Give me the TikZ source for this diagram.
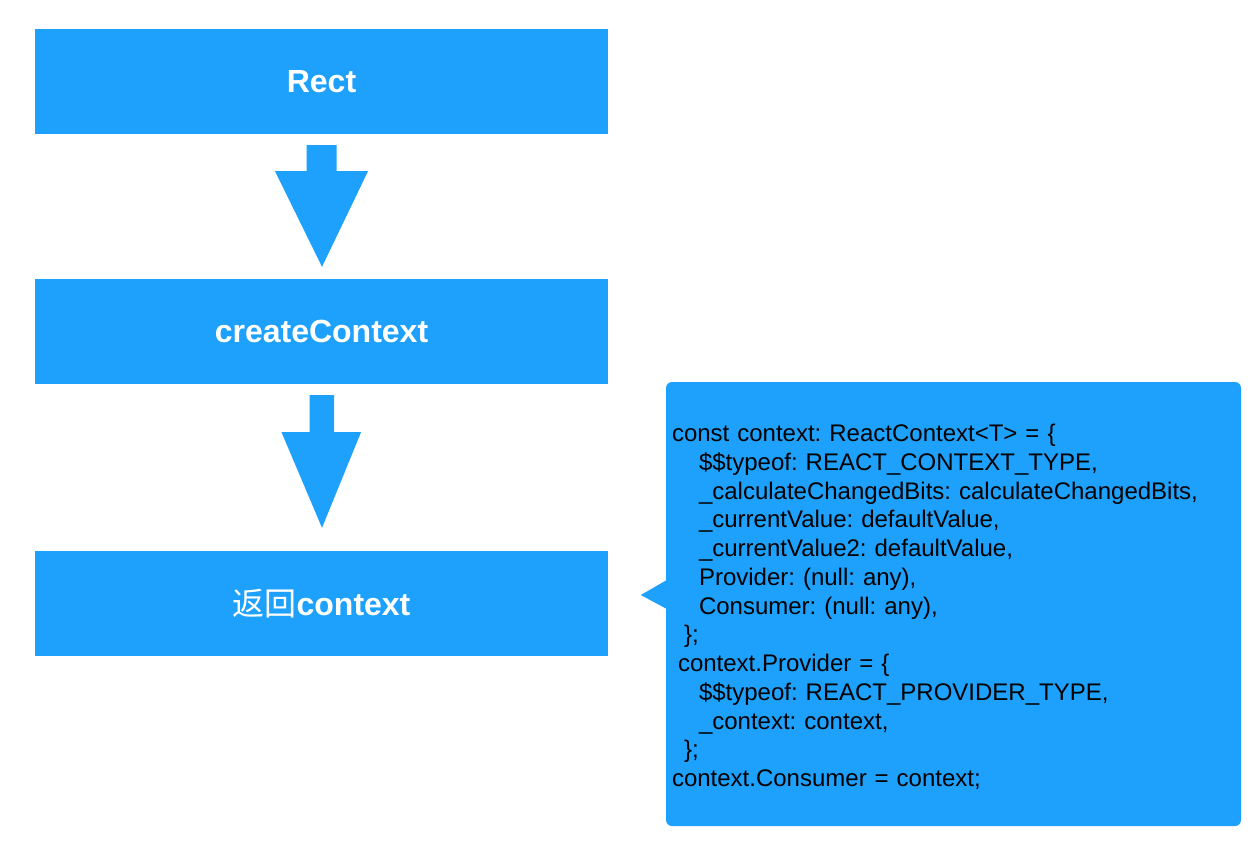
\documentclass[tikz,border=0pt]{standalone}
\usepackage{fontspec}
\setmainfont{Liberation Sans}
\newfontfamily\cjk{Noto Sans CJK SC}
\usetikzlibrary{calc}
\frenchspacing
\definecolor{rblue}{RGB}{29,161,253}
\tikzset{
  stepbox/.style={fill=rblue, text=white, minimum width=573pt, minimum height=105pt,
    inner sep=0pt, font=\bfseries\fontsize{32}{38}\selectfont},
  codebox/.style={fill=rblue, rounded corners=6pt, minimum width=575pt, minimum height=444pt,
    text width=563pt, inner xsep=6pt, align=left, font=\fontsize{24}{28.75}\selectfont},
  blockarrow/.style={fill=rblue}
}

\begin{document}
\begin{tikzpicture}[x=1pt,y=-1pt]
\useasboundingbox (0,0) rectangle (1260,865);
%\node {\includegraphics{context.png}};
\node[stepbox] (rect) at (321.5,81.5) {Rect};
\node[stepbox] (create) at (321.5,331.5) {createContext};
\node[stepbox] (ret) at (321.5,603.5) {{\cjk\mdseries 返回}context};
\node[codebox] (code) at (953.5,604) {\rule{0pt}{23.5pt}%
const context: ReactContext<T> = \{\\
\hspace*{27pt}\$\$typeof: REACT\_CONTEXT\_TYPE,\\
\hspace*{27pt}\_calculateChangedBits: calculateChangedBits,\\
\hspace*{27pt}\_currentValue: defaultValue,\\
\hspace*{27pt}\_currentValue2: defaultValue,\\
\hspace*{27pt}Provider: (null: any),\\
\hspace*{27pt}Consumer: (null: any),\\
\hspace*{12pt}\};\\
\hspace*{6pt}context.Provider = \{\\
\hspace*{27pt}\$\$typeof: REACT\_PROVIDER\_TYPE,\\
\hspace*{27pt}\_context: context,\\
\hspace*{12pt}\};\\
context.Consumer = context;};
\fill[blockarrow] ($(rect.south)+(-15,11)$) -- ($(rect.south)+(15,11)$) --
($(rect.south)+(15,37)$) -- ($(rect.south)+(46.5,37)$) -- ($(create.north)+(0.5,-12)$) --
($(rect.south)+(-46.5,37)$) -- ($(rect.south)+(-15,37)$) -- cycle;
\fill[blockarrow] ($(create.south)+(-12,11)$) -- ($(create.south)+(12.5,11)$) --
($(create.south)+(12.5,48)$) -- ($(create.south)+(39.5,48)$) -- ($(ret.north)+(0.5,-23)$) --
($(create.south)+(-40,48)$) -- ($(create.south)+(-12,48)$) -- cycle;
\fill[blockarrow] ($(code.west)+(1,-24)$) -- ($(code.west)+(-25,-9)$) -- ($(code.west)+(1,5)$) -- cycle;
\end{tikzpicture}
\end{document}
